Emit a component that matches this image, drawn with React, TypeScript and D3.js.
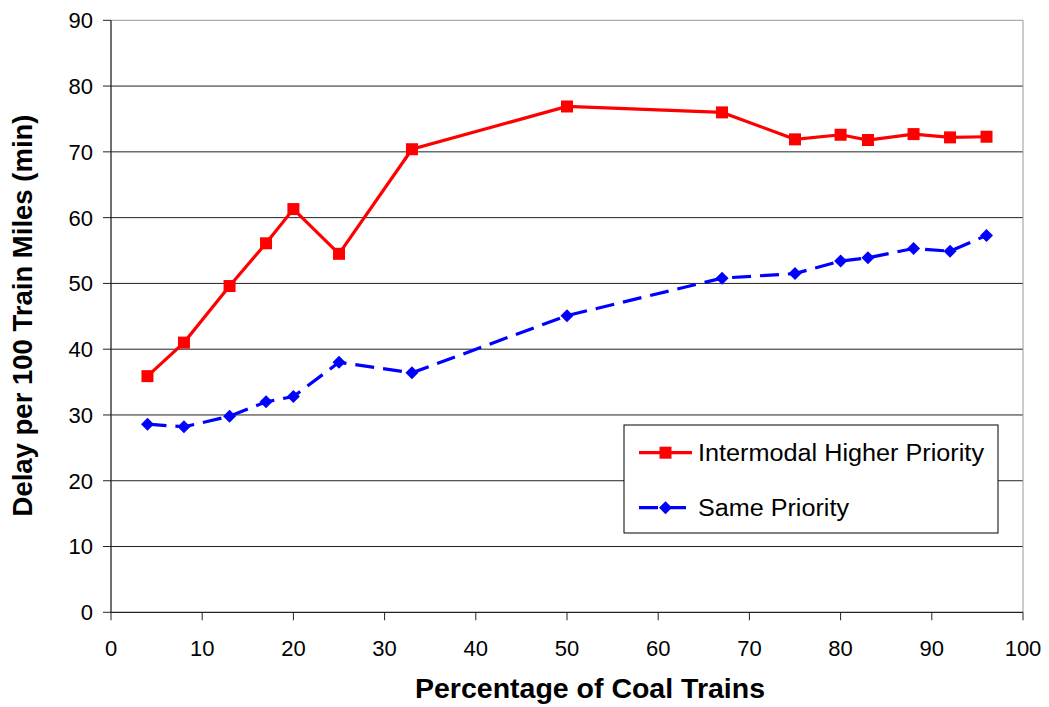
import React from "react";
import * as d3 from "d3";

const coalPct = [4, 8, 13, 17, 20, 25, 33, 50, 67, 75, 80, 83, 88, 92, 96];
const intermodalHigher = [35.9, 41.0, 49.6, 56.1, 61.3, 54.5, 70.4, 76.9, 76.0, 71.9, 72.6, 71.8, 72.7, 72.2, 72.3];
const samePriority = [28.6, 28.2, 29.8, 32.0, 32.8, 38.0, 36.4, 45.1, 50.8, 51.5, 53.4, 53.9, 55.3, 54.9, 57.3];
const xTicks = [0, 10, 20, 30, 40, 50, 60, 70, 80, 90, 100];
const yTicks = [0, 10, 20, 30, 40, 50, 60, 70, 80, 90];
const seriesNames = ["Intermodal Higher Priority", "Same Priority"];
const xTitle = "Percentage of Coal Trains";
const yTitle = "Delay per 100 Train Miles (min)";

const W = 1049;
const H = 707;
const L = 111, R = 1023, T = 20.3, B = 612.3;
const FONT = "'Liberation Sans', Arial, sans-serif";

export default function App() {
  const x = d3.scaleLinear().domain([0, 100]).range([L, R]);
  const y = d3.scaleLinear().domain([0, 90]).range([B, T]);
  const line = d3
    .line<[number, number]>()
    .x((d) => x(d[0]))
    .y((d) => y(d[1]));
  const redPts: [number, number][] = coalPct.map((c, i) => [c, intermodalHigher[i]]);
  const bluePts: [number, number][] = coalPct.map((c, i) => [c, samePriority[i]]);
  const sq = 12;
  const dm = 6.5;
  const diamond = (cx: number, cy: number) =>
    `M${cx},${cy - dm}L${cx + dm},${cy}L${cx},${cy + dm}L${cx - dm},${cy}Z`;

  const legX = 624, legY = 425, legW = 374, legH = 108;
  const row1 = 452.7, row2 = 507.7;

  return (
    <div style={{ position: "absolute", left: 0, top: 0 }}>
      <svg width={W} height={H} style={{ display: "block", background: "#fff" }}>
        {yTicks.filter((t) => t > 0).map((t) => (
          <line key={"g" + t} x1={L} x2={R} y1={y(t)} y2={y(t)} stroke={t === 90 ? "#999" : "#222"} strokeWidth={1} />
        ))}
        <line x1={R} x2={R} y1={T} y2={B} stroke="#999" strokeWidth={1} />
        <line x1={L} x2={L} y1={T} y2={B} stroke="#222" strokeWidth={1.3} />
        <line x1={L} x2={R} y1={B} y2={B} stroke="#222" strokeWidth={1.3} />
        {yTicks.map((t) => (
          <g key={"yt" + t}>
            <line x1={L - 8} x2={L} y1={y(t)} y2={y(t)} stroke="#222" strokeWidth={1} />
            <text x={93} y={y(t)} dy="0.36em" textAnchor="end" fontFamily={FONT} fontSize={22} fill="#000">
              {t}
            </text>
          </g>
        ))}
        {xTicks.map((t) => (
          <g key={"xt" + t}>
            <line x1={x(t)} x2={x(t)} y1={B} y2={B + 8} stroke="#222" strokeWidth={1} />
            <text x={x(t)} y={656} textAnchor="middle" fontFamily={FONT} fontSize={22} fill="#000">
              {t}
            </text>
          </g>
        ))}
        <path d={line(bluePts) || ""} fill="none" stroke="#0000FF" strokeWidth={3.2} strokeDasharray="19,9" />
        {bluePts.map((p, i) => (
          <path key={"b" + i} d={diamond(x(p[0]), y(p[1]))} fill="#0000FF" />
        ))}
        <path d={line(redPts) || ""} fill="none" stroke="#FF0000" strokeWidth={3.2} />
        {redPts.map((p, i) => (
          <rect key={"r" + i} x={x(p[0]) - sq / 2} y={y(p[1]) - sq / 2} width={sq} height={sq} fill="#FF0000" />
        ))}
        <text
          x={415}
          y={698}
          textLength={350}
          lengthAdjust="spacingAndGlyphs"
          fontFamily={FONT}
          fontSize={27}
          fontWeight="bold"
          fill="#000"
        >
          {xTitle}
        </text>
        <text
          transform={`translate(32,${315.5}) rotate(-90)`}
          textAnchor="middle"
          fontFamily={FONT}
          fontSize={27.5}
          fontWeight="bold"
          fill="#000"
        >
          {yTitle}
        </text>
        <rect x={legX} y={legY} width={legW} height={legH} fill="#fff" stroke="#000" strokeWidth={1} />
        <line x1={639} x2={692} y1={row1} y2={row1} stroke="#FF0000" strokeWidth={3.2} />
        <rect x={665.5 - sq / 2} y={row1 - sq / 2} width={sq} height={sq} fill="#FF0000" />
        <text
          x={698}
          y={row1}
          dy="0.36em"
          textLength={286}
          lengthAdjust="spacingAndGlyphs"
          fontFamily={FONT}
          fontSize={23}
          fill="#000"
        >
          {seriesNames[0]}
        </text>
        <line x1={639} x2={692} y1={row2} y2={row2} stroke="#0000FF" strokeWidth={3.2} strokeDasharray="19,9" />
        <path d={diamond(665.5, row2)} fill="#0000FF" />
        <text
          x={698}
          y={row2}
          dy="0.36em"
          textLength={151}
          lengthAdjust="spacingAndGlyphs"
          fontFamily={FONT}
          fontSize={23}
          fill="#000"
        >
          {seriesNames[1]}
        </text>
      </svg>
    </div>
  );
}
